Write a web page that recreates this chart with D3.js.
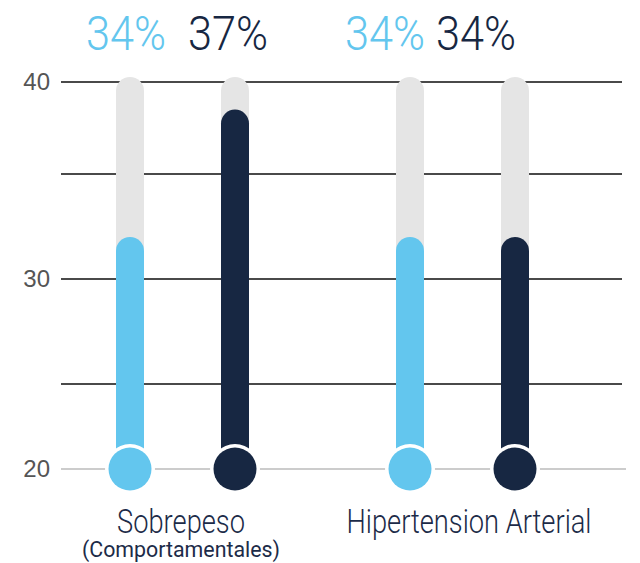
<!DOCTYPE html>
<html>
<head>
<meta charset="utf-8">
<script src="https://cdn.jsdelivr.net/npm/d3@7"></script>
<style>
  body { margin: 0; background: #fff; }
  svg { display: block; }
</style>
</head>
<body>
<div id="chart"></div>
<script>
// data
var categories = ["Sobrepeso", "Hipertension Arterial"];
var subLabels = ["(Comportamentales)", ""];
var series = ["a", "b"];
var fillValues = [[32, 38.5], [32, 32]];
var pctLabels = [["34%", "37%"], ["34%", "34%"]];
var gridTicks = [20, 25, 30, 35, 40];
var axisLabels = [20, 30, 40];

var width = 640, height = 563;
var colors = ["#63c6ee", "#172742"];
var trackColor = "#e5e5e5";
var labelShift = [[-4, -7], [-25, -39]];

var svg = d3.select("#chart")
	.append("svg")
	.attr("width", width)
	.attr("height", height);

// uneven gridline spacing in the original, so polylinear scale
var y = d3.scaleLinear()
	.domain([20, 25, 30, 35, 40])
	.range([469, 384, 279, 174, 82]);

var xGroup = d3.scaleBand().domain(categories).range([42.5, 602.5]);
var xSeries = d3.scaleBand().domain(series).range([35, 245]);

var barW = 28, bulbR = 21.5;

// gridlines
svg.append("g").selectAll("line")
	.data(gridTicks)
	.enter().append("line")
	.attr("x1", 61)
	.attr("x2", function(d){ return d == 20 ? 626 : 622; })
	.attr("y1", function(d){ return y(d); })
	.attr("y2", function(d){ return y(d); })
	.attr("stroke", function(d){ return d == 20 ? "#9a9a9a" : "#4a4a4a"; })
	.attr("stroke-width", function(d){ return d == 20 ? 1.2 : 2; });

svg.append("g").selectAll("text")
	.data(axisLabels)
	.enter().append("text")
	.attr("x", 50)
	.attr("y", function(d){ return y(d) + 8; })
	.attr("text-anchor", "end")
	.attr("font-family", "Liberation Sans Narrow, Arial Narrow, sans-serif")
	.attr("font-size", 24)
	.attr("fill", "#555")
	.text(function(d){ return d; });

var groups = svg.selectAll("g.grp")
	.data(categories)
	.enter().append("g")
	.attr("class", "grp")
	.attr("transform", function(d){ return "translate(" + xGroup(d) + ",0)"; });

groups.each(function(cat, gi){
	var g = d3.select(this);
	series.forEach(function(s, si){
		var cx = xSeries(s) + xSeries.bandwidth() / 2;
		// track
		g.append("rect")
			.attr("x", cx - barW / 2)
			.attr("y", y(40) - 5)
			.attr("width", barW)
			.attr("height", y(20) - y(40) + 5)
			.attr("rx", barW / 2)
			.attr("fill", trackColor);
		// fill
		g.append("rect")
			.attr("x", cx - barW / 2)
			.attr("y", y(fillValues[gi][si]))
			.attr("width", barW)
			.attr("height", y(20) - y(fillValues[gi][si]))
			.attr("rx", barW / 2)
			.attr("fill", colors[si]);
		// bulb
		g.append("circle")
			.attr("cx", cx)
			.attr("cy", y(20))
			.attr("r", bulbR + 3.5)
			.attr("fill", "#fff");
		g.append("circle")
			.attr("cx", cx)
			.attr("cy", y(20))
			.attr("r", bulbR)
			.attr("fill", colors[si]);
		// top label
		g.append("text")
			.attr("x", cx + labelShift[gi][si])
			.attr("y", 50)
			.attr("text-anchor", "middle")
			.attr("font-family", "Roboto, sans-serif")
			.attr("font-weight", 300)
			.attr("font-size", 48)
			.attr("textLength", 80)
			.attr("lengthAdjust", "spacingAndGlyphs")
			.attr("fill", colors[si])
			.text(pctLabels[gi][si]);
	});

	var mid = xGroup.bandwidth() / 2;
	g.append("text")
		.attr("x", gi == 0 ? mid - 1.5 : mid + 6.5)
		.attr("y", 533)
		.attr("text-anchor", "middle")
		.attr("font-family", "Roboto, sans-serif")
		.attr("font-weight", 300)
		.attr("font-size", 33)
		.attr("textLength", gi == 0 ? 128 : 245)
		.attr("lengthAdjust", "spacingAndGlyphs")
		.attr("fill", "#1c2b48")
		.text(cat);
	if (subLabels[gi]) {
		g.append("text")
			.attr("x", mid - 1.5)
			.attr("y", 557)
			.attr("text-anchor", "middle")
			.attr("font-family", "Roboto, sans-serif")
			.attr("font-size", 22)
			.attr("textLength", 198)
			.attr("lengthAdjust", "spacingAndGlyphs")
			.attr("fill", "#1c2b48")
			.text(subLabels[gi]);
	}
});
</script>
</body>
</html>
